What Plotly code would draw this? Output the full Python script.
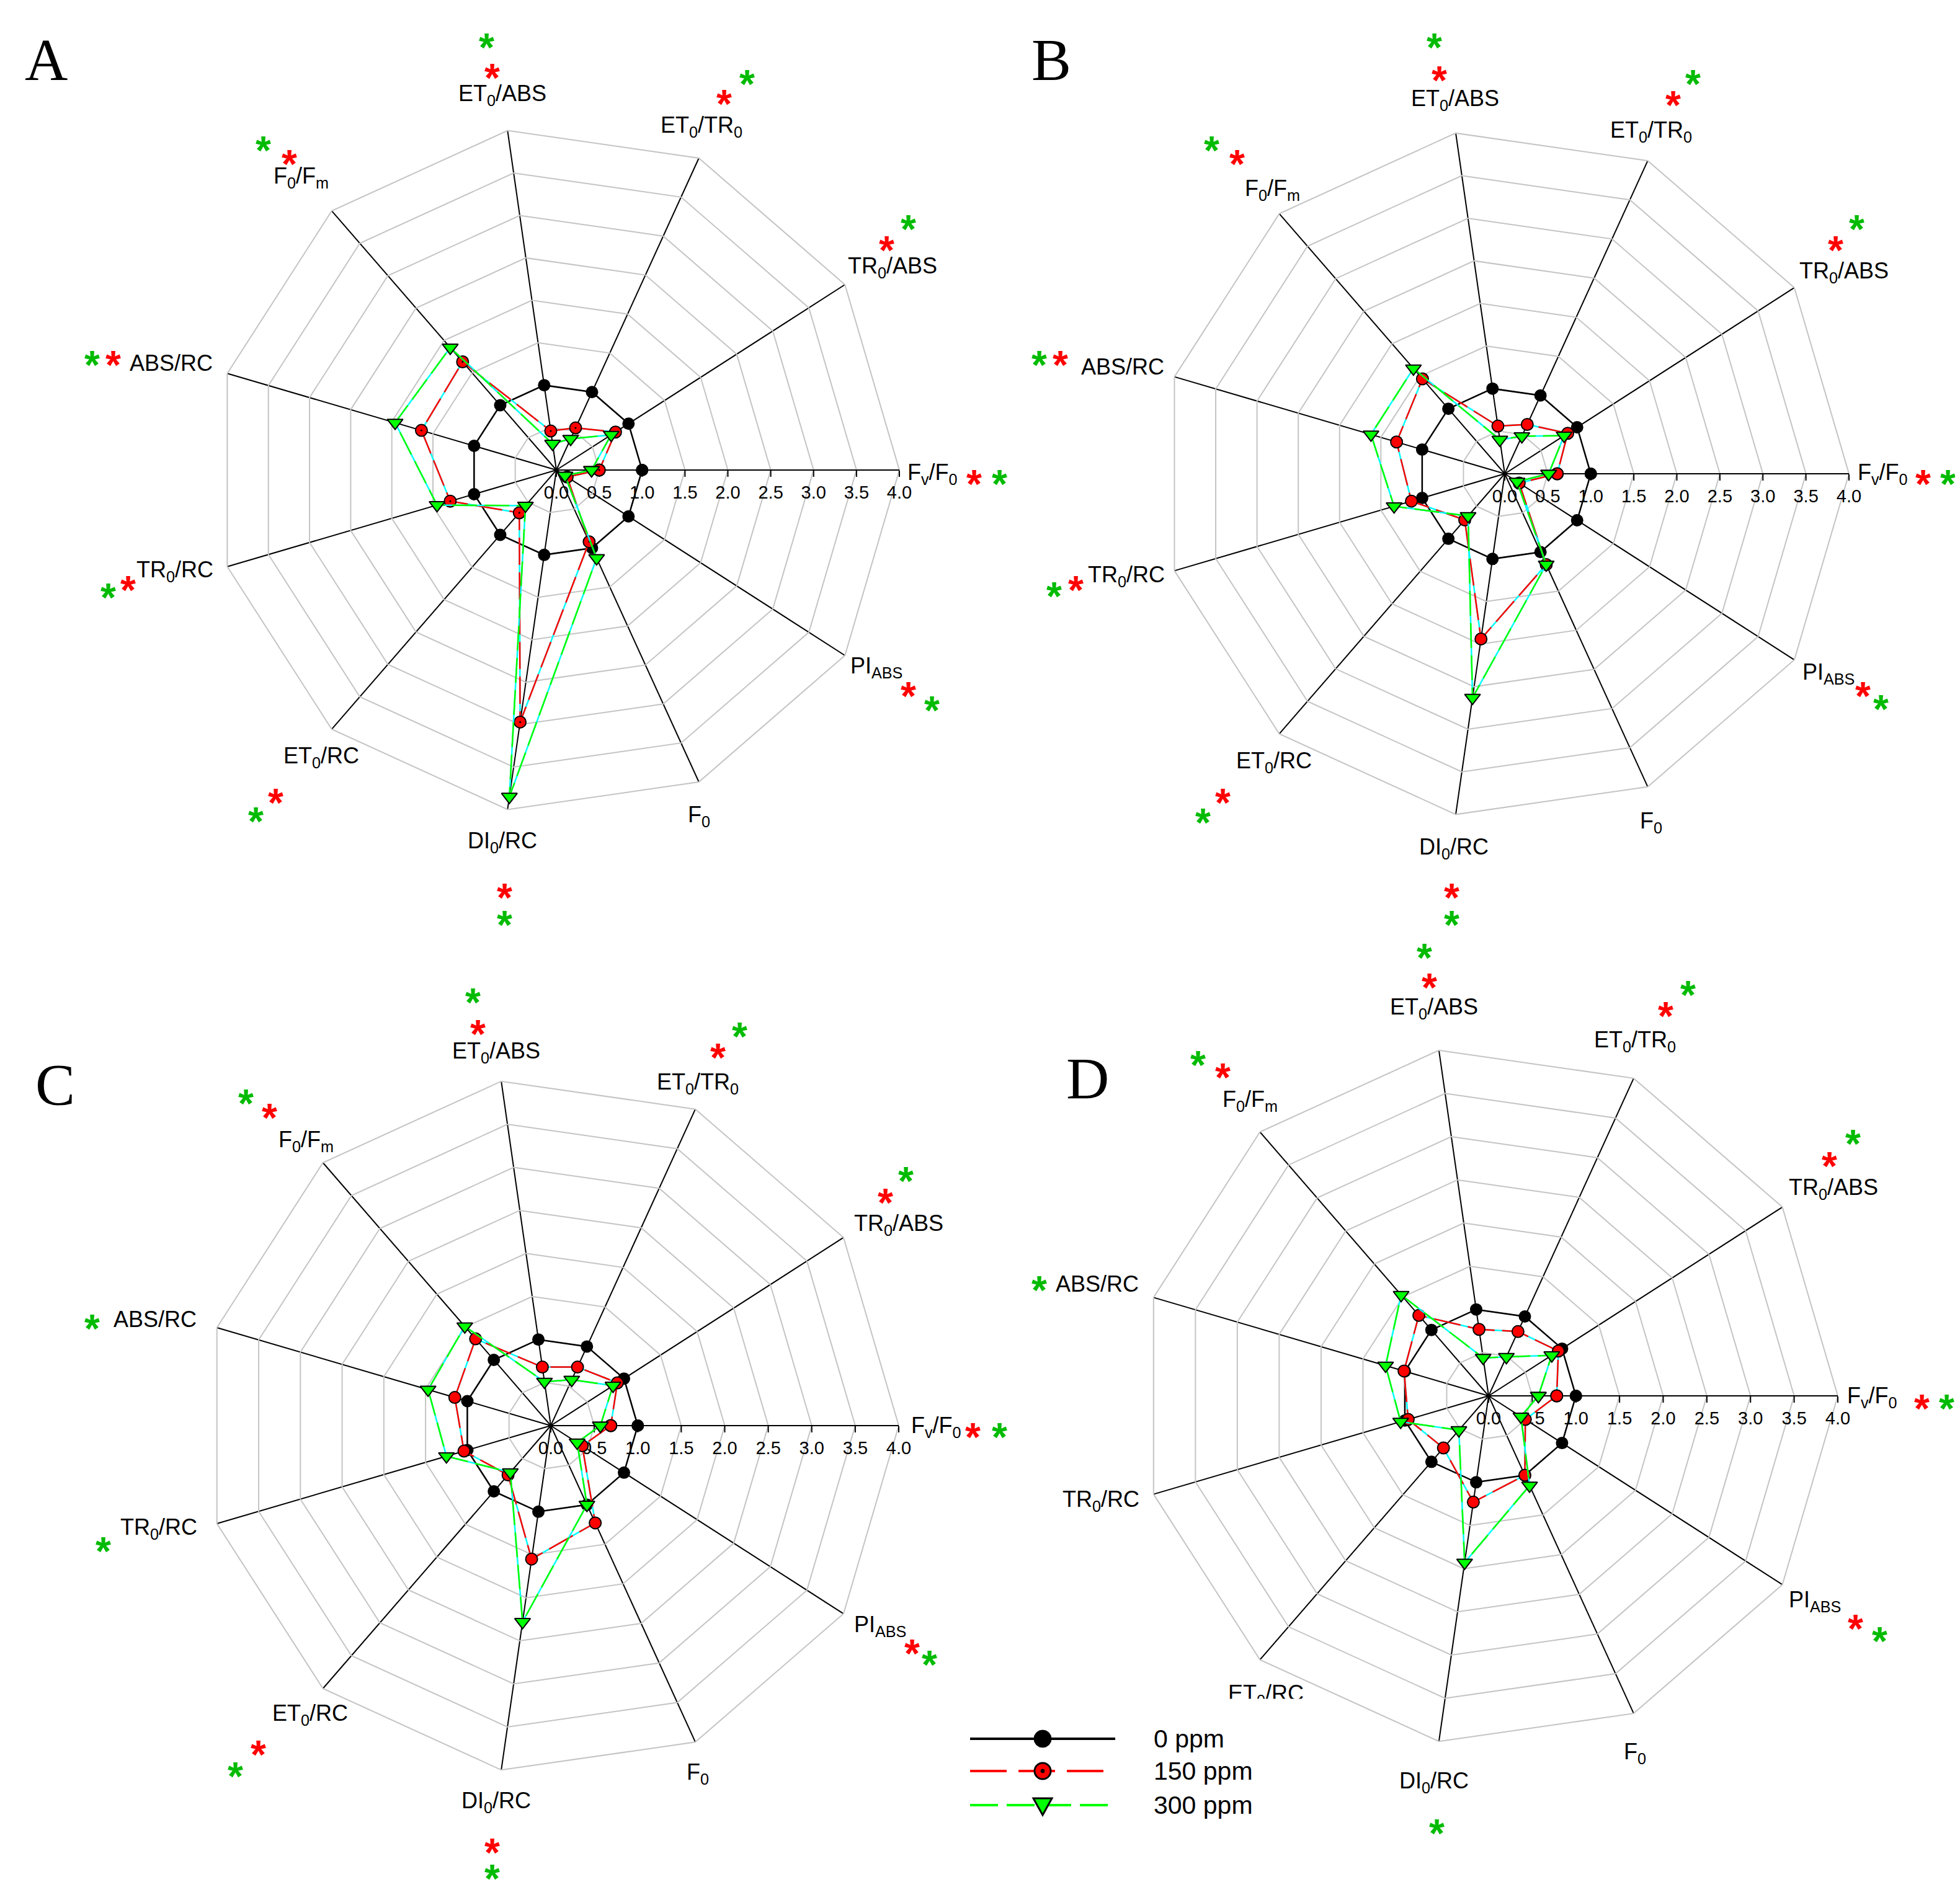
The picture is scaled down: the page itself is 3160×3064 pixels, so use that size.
import plotly.graph_objects as go

W, H = 3160, 3064

# ---------------- data ----------------
categories = ["Fv/F0", "PI_ABS", "F0", "DI0/RC", "ET0/RC", "TR0/RC",
              "ABS/RC", "F0/Fm", "ET0/ABS", "ET0/TR0", "TR0/ABS"]
category_labels = ["F<sub>v</sub>/F<sub>0</sub>", "PI<sub>ABS</sub>", "F<sub>0</sub>",
                   "DI<sub>0</sub>/RC", "ET<sub>0</sub>/RC", "TR<sub>0</sub>/RC", "ABS/RC",
                   "F<sub>0</sub>/F<sub>m</sub>", "ET<sub>0</sub>/ABS",
                   "ET<sub>0</sub>/TR<sub>0</sub>", "TR<sub>0</sub>/ABS"]
radial_tickvals = [0.0, 0.5, 1.0, 1.5, 2.0, 2.5, 3.0, 3.5, 4.0]
series_names = ["0 ppm", "150 ppm", "300 ppm"]
panel_letters = ["A", "B", "C", "D"]

A_0ppm = [1.0, 1.0, 1.0, 1.0, 1.0, 1.0, 1.0, 1.0, 1.0, 1.0, 1.0]
A_150ppm = [0.50, 0.15, 0.92, 2.97, 0.66, 1.29, 1.64, 1.67, 0.46, 0.54, 0.82]
A_300ppm = [0.41, 0.12, 1.13, 3.85, 0.55, 1.45, 1.96, 1.89, 0.31, 0.40, 0.76]

B_0ppm = [1.0, 1.0, 1.0, 1.0, 1.0, 1.0, 1.0, 1.0, 1.0, 1.0, 1.0]
B_150ppm = [0.61, 0.20, 1.16, 1.94, 0.71, 1.13, 1.31, 1.46, 0.56, 0.63, 0.87]
B_300ppm = [0.51, 0.17, 1.16, 2.63, 0.65, 1.34, 1.62, 1.62, 0.40, 0.48, 0.82]

C_0ppm = [1.0, 1.0, 1.0, 1.0, 1.0, 1.0, 1.0, 1.0, 1.0, 1.0, 1.0]
C_150ppm = [0.69, 0.43, 1.23, 1.55, 0.75, 1.04, 1.15, 1.32, 0.68, 0.74, 0.91]
C_300ppm = [0.57, 0.36, 1.00, 2.28, 0.71, 1.25, 1.47, 1.51, 0.51, 0.58, 0.85]

D_0ppm = [1.0, 1.0, 1.0, 1.0, 1.0, 1.0, 1.0, 1.0, 1.0, 1.0, 1.0]
D_150ppm = [0.78, 0.50, 1.00, 1.23, 0.79, 0.96, 1.01, 1.22, 0.77, 0.81, 0.95]
D_300ppm = [0.57, 0.44, 1.13, 1.93, 0.52, 1.05, 1.23, 1.53, 0.44, 0.49, 0.86]

# significance (asterisks): 150 ppm (red) and 300 ppm (green) vs control
A_sig150 = ["Fv/F0", "PI_ABS", "DI0/RC", "ET0/RC", "TR0/RC", "ABS/RC", "F0/Fm", "ET0/ABS", "ET0/TR0", "TR0/ABS"]
A_sig300 = ["Fv/F0", "PI_ABS", "DI0/RC", "ET0/RC", "TR0/RC", "ABS/RC", "F0/Fm", "ET0/ABS", "ET0/TR0", "TR0/ABS"]
B_sig150 = ["Fv/F0", "PI_ABS", "DI0/RC", "ET0/RC", "TR0/RC", "ABS/RC", "F0/Fm", "ET0/ABS", "ET0/TR0", "TR0/ABS"]
B_sig300 = ["Fv/F0", "PI_ABS", "DI0/RC", "ET0/RC", "TR0/RC", "ABS/RC", "F0/Fm", "ET0/ABS", "ET0/TR0", "TR0/ABS"]
C_sig150 = ["Fv/F0", "PI_ABS", "DI0/RC", "ET0/RC", "F0/Fm", "ET0/ABS", "ET0/TR0", "TR0/ABS"]
C_sig300 = ["Fv/F0", "PI_ABS", "DI0/RC", "ET0/RC", "TR0/RC", "ABS/RC", "F0/Fm", "ET0/ABS", "ET0/TR0", "TR0/ABS"]
D_sig150 = ["Fv/F0", "PI_ABS", "F0/Fm", "ET0/ABS", "ET0/TR0", "TR0/ABS"]
D_sig300 = ["Fv/F0", "PI_ABS", "DI0/RC", "ABS/RC", "F0/Fm", "ET0/ABS", "ET0/TR0", "TR0/ABS"]

panels = [
    (A_0ppm, A_150ppm, A_300ppm, A_sig150, A_sig300),
    (B_0ppm, B_150ppm, B_300ppm, B_sig150, B_sig300),
    (C_0ppm, C_150ppm, C_300ppm, C_sig150, C_sig300),
    (D_0ppm, D_150ppm, D_300ppm, D_sig150, D_sig300),
]

# ---------------- layout geometry ----------------
S = W / 1568.0  # positions below are given on a 1568-px-wide grid
GEOM = [(889, 750, 553), (2418, 756, 555), (880, 2291, 561), (2392, 2243, 563)]  # px
LETTER_POS = [(33, 44), (837, 44), (40, 864), (866, 859)]
# category label positions per panel (same order as categories)
LABEL_POS = [
    [(745, 378), (700, 533), (558, 652), (401, 673), (256, 605), (139, 456),
     (136, 291), (240, 141), (401, 75), (560, 100), (713, 213)],
    [(1505, 378), (1462, 538), (1320, 657), (1162, 678), (1018, 609), (900, 460),
     (897, 294), (1017, 151), (1163, 79), (1320, 104), (1474, 217)],
    [(748, 1141), (703, 1300), (557, 1418), (396, 1441), (247, 1371), (126, 1222),
     (123, 1056), (244, 912), (396, 841), (557, 866), (718, 979)],
    [(1497, 1117), (1451, 1280), (1307, 1402), (1146, 1425), (1012, 1355), (880, 1200),
     (877, 1028), (999, 880), (1146, 806), (1307, 832), (1466, 950)],
]
# asterisk positions per panel: category -> (red slot, green slot)
STAR_POS = [
    {"Fv/F0": ((779, 380), (799, 380)), "PI_ABS": ((726, 550), (745, 561)),
     "DI0/RC": ((403, 711), (403, 733)), "ET0/RC": ((220, 635), (204, 650)),
     "TR0/RC": ((102, 465), (86, 471)), "ABS/RC": ((90, 285), (73, 285)),
     "F0/Fm": ((231, 124), (210, 113)), "ET0/ABS": ((393, 55), (389, 31)),
     "ET0/TR0": ((579, 76), (597, 60)), "TR0/ABS": ((709, 193), (726, 176))},
    {"Fv/F0": ((1538, 380), (1558, 380)), "PI_ABS": ((1490, 550), (1504, 560)),
     "DI0/RC": ((1161, 711), (1161, 733)), "ET0/RC": ((978, 635), (962, 651)),
     "TR0/RC": ((860, 465), (843, 470)), "ABS/RC": ((848, 285), (831, 285)),
     "F0/Fm": ((989, 124), (969, 113)), "ET0/ABS": ((1151, 57), (1147, 31)),
     "ET0/TR0": ((1338, 77), (1354, 60)), "TR0/ABS": ((1468, 193), (1485, 176))},
    {"Fv/F0": ((778, 1143), (799, 1143)), "PI_ABS": ((729, 1316), (743, 1325)),
     "DI0/RC": ((393, 1475), (393, 1496)), "ET0/RC": ((206, 1397), (188, 1414)),
     "TR0/RC": ((98, 1228), (82, 1234)), "ABS/RC": ((90, 1056), (73, 1056)),
     "F0/Fm": ((215, 887), (196, 876)), "ET0/ABS": ((382, 820), (378, 795)),
     "ET0/TR0": ((574, 839), (591, 822)), "TR0/ABS": ((708, 955), (724, 938))},
    {"Fv/F0": ((1537, 1120), (1557, 1120)), "PI_ABS": ((1484, 1296), (1503, 1306)),
     "DI0/RC": ((1149, 1440), (1149, 1460)), "ABS/RC": ((848, 1025), (831, 1025)),
     "F0/Fm": ((978, 855), (958, 845)), "ET0/ABS": ((1143, 783), (1139, 759)),
     "ET0/TR0": ((1332, 806), (1350, 789)), "TR0/ABS": ((1463, 926), (1482, 908))},
]

FONT = "Liberation Sans, Arial, sans-serif"
RED, GREEN, CYAN = "#ff0000", "#00ff00", "#00ffff"
STAR_RED, STAR_GREEN = "#ff0000", "#00bb00"


def px(x, y):
    return x / W, 1 - y / H


def gp(x, y):
    return px(x * S, y * S)


def closed(v):
    return list(v) + [v[0]]


theta = closed(categories)
fig = go.Figure()
annotations = []

for k, (c0, c150, c300, s150, s300) in enumerate(panels):
    sp = "polar" if k == 0 else f"polar{k + 1}"
    red_symbol = "circle-dot" if k == 0 else "circle"
    fig.add_trace(go.Scatterpolar(
        r=closed(c0), theta=theta, subplot=sp, mode="lines+markers", name=series_names[0],
        line=dict(color="black", width=2.5),
        marker=dict(symbol="circle", size=20, color="black"), showlegend=False))
    fig.add_trace(go.Scatterpolar(
        r=closed(c150), theta=theta, subplot=sp, mode="lines", hoverinfo="skip",
        line=dict(color=CYAN, width=2.5), showlegend=False))
    fig.add_trace(go.Scatterpolar(
        r=closed(c150), theta=theta, subplot=sp, mode="lines+markers", name=series_names[1],
        line=dict(color=RED, width=2.5, dash="44px,12px"),
        marker=dict(symbol=red_symbol, size=19, color=RED, line=dict(color="black", width=2)),
        showlegend=False))
    fig.add_trace(go.Scatterpolar(
        r=closed(c300), theta=theta, subplot=sp, mode="lines", hoverinfo="skip",
        line=dict(color=CYAN, width=2.5), showlegend=False))
    fig.add_trace(go.Scatterpolar(
        r=closed(c300), theta=theta, subplot=sp, mode="lines+markers", name=series_names[2],
        line=dict(color=GREEN, width=2.5, dash="40px,12px"),
        marker=dict(symbol="triangle-down", size=22, color=GREEN, line=dict(color="black", width=2)),
        showlegend=False))

    cx, cy, R = GEOM[k]
    x0, y1 = px(cx - R, cy - R)
    x1, y0 = px(cx + R, cy + R)
    fig.update_layout(**{sp: dict(
        domain=dict(x=[x0, x1], y=[y0, y1]),
        bgcolor="rgba(0,0,0,0)",
        gridshape="linear",
        radialaxis=dict(range=[0, 4], tickvals=radial_tickvals, tickformat=".1f",
                        angle=0, side="clockwise", showline=True, linecolor="black",
                        linewidth=2, ticks="outside", ticklen=10, tickwidth=2,
                        tickcolor="black", gridcolor="#c4c4c4", gridwidth=2,
                        tickfont=dict(family=FONT, size=29, color="black"),
                        layer="below traces"),
        angularaxis=dict(type="category", categoryarray=categories, direction="clockwise",
                         rotation=0, showticklabels=False, showgrid=True, gridcolor="black",
                         gridwidth=2, showline=True, linecolor="#c4c4c4", linewidth=2,
                         ticks="", layer="below traces"),
    )})

    # category labels
    for lab, pos in zip(category_labels, LABEL_POS[k]):
        ax, ay = gp(*pos)
        annotations.append(dict(x=ax, y=ay, xref="paper", yref="paper", text=lab,
                                showarrow=False, xanchor="center", yanchor="middle",
                                xshift=-6, yshift=6 if "<sub>" in lab else 9,
                                font=dict(family=FONT, size=36, color="black")))

    # significance asterisks
    for cat in categories:
        slots = STAR_POS[k].get(cat)
        if slots is None:
            continue
        for sigset, pos, col in ((s150, slots[0], STAR_RED), (s300, slots[1], STAR_GREEN)):
            if cat in sigset:
                ax, ay = gp(*pos)
                annotations.append(dict(x=ax, y=ay, xref="paper", yref="paper", text="<b>*</b>",
                                        showarrow=False, xanchor="center", yanchor="middle",
                                        xshift=-7, yshift=-7,
                                        font=dict(family=FONT, size=64, color=col)))

    lx, ly = gp(*LETTER_POS[k])
    annotations.append(dict(x=lx, y=ly, xref="paper", yref="paper", text=panel_letters[k],
                            showarrow=False, xanchor="center", yanchor="middle",
                            font=dict(family="Liberation Serif, Times New Roman, serif",
                                      size=96, color="black")))

# white legend box partly hiding the panel-D ET0/RC label (as in the original figure)
cbx, cby = px(2039, 2749)
annotations.append(dict(x=cbx, y=cby, xref="paper", yref="paper", text=" ", showarrow=False,
                        xanchor="center", yanchor="middle", width=150, height=34,
                        bgcolor="white", borderpad=0, font=dict(size=10)))

# ---------------- custom legend ----------------
shapes = []
LEG_X0, LEG_X1, LEG_MX, LEG_TX = 1556, 1790, 1673, 1850
LEG_ROWS = [2796, 2848, 2903]
leg_styles = [("black", "solid"), (RED, "59px,19px"), (GREEN, "45px,14px")]
for (col, dash), yrow, name in zip(leg_styles, LEG_ROWS, series_names):
    xa, ya = px(LEG_X0, yrow)
    xb, _ = px(LEG_X1, yrow)
    shapes.append(dict(type="line", xref="paper", yref="paper", x0=xa, x1=xb, y0=ya, y1=ya,
                       line=dict(color=col, width=4, dash=dash), layer="above"))
    tx, ty = px(LEG_TX, yrow)
    annotations.append(dict(x=tx, y=ty, xref="paper", yref="paper", text=name, showarrow=False,
                            xanchor="left", yanchor="middle",
                            font=dict(family=FONT, size=41, color="black")))


def circle_shape(cxp, cyp, rad, fill, lcol, lw):
    a0, b1 = px(cxp - rad, cyp - rad)
    a1, b0 = px(cxp + rad, cyp + rad)
    return dict(type="circle", xref="paper", yref="paper", x0=a0, x1=a1, y0=b0, y1=b1,
                fillcolor=fill, line=dict(color=lcol, width=lw), layer="above")


shapes.append(circle_shape(LEG_MX, LEG_ROWS[0], 14, "black", "black", 1))
shapes.append(circle_shape(LEG_MX, LEG_ROWS[1], 13, RED, "black", 3))
shapes.append(circle_shape(LEG_MX, LEG_ROWS[1], 3, "black", "black", 1))
p1 = px(LEG_MX - 15, LEG_ROWS[2] - 11)
p2 = px(LEG_MX + 15, LEG_ROWS[2] - 11)
p3 = px(LEG_MX, LEG_ROWS[2] + 16)
shapes.append(dict(type="path", xref="paper", yref="paper",
                   path=f"M {p1[0]},{p1[1]} L {p2[0]},{p2[1]} L {p3[0]},{p3[1]} Z",
                   fillcolor=GREEN, line=dict(color="black", width=3), layer="above"))

fig.update_layout(width=W, height=H, margin=dict(l=0, r=0, t=0, b=0),
                  paper_bgcolor="white", plot_bgcolor="white", showlegend=False,
                  annotations=annotations, shapes=shapes,
                  font=dict(family=FONT, color="black"))

fig.write_html("out.html")
